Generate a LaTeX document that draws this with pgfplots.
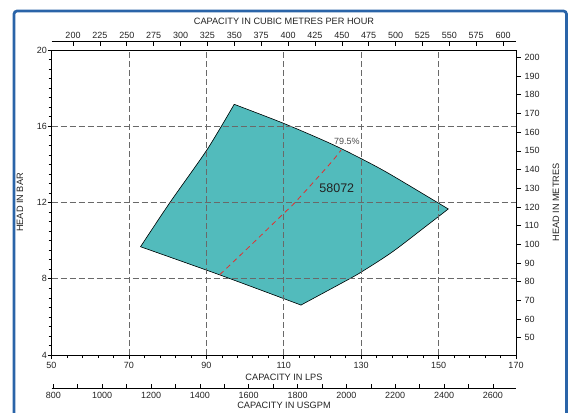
\documentclass[border=0pt]{standalone}
\usepackage{pgfplots}
\pgfplotsset{compat=1.18}
\usepackage{fontspec}
\setmainfont{Liberation Sans}
\definecolor{frameblue}{RGB}{42,100,168}
\definecolor{fillteal}{RGB}{82,187,188}
\definecolor{effred}{RGB}{228,45,45}
\definecolor{txt}{RGB}{35,35,35}
\definecolor{gridgray}{RGB}{105,105,105}
\pgfplotsset{
  common/.style={
    scale only axis, width=464.5pt,
    anchor=south west,
    ticklabel style={font=\fontsize{9}{10}\selectfont, text=txt},
    /pgf/number format/assume math mode=true,
    /pgf/number format/1000 sep={},
    axis line style={black, line width=0.7pt},
    tick style={black, line width=0.6pt},
  },
  edge/.style={black, line width=0.6pt, smooth, line cap=round, line join=round},
  fan/.style={fill=fillteal, draw=none, smooth},
}
\begin{document}
\begin{tikzpicture}[x=1pt,y=1pt]
\useasboundingbox (0,0) rectangle (572,412);
\draw[frameblue, line width=2.7pt, rounded corners=3pt] (14,-10) rectangle (566.5,401);
% main axis (LPS / bar)
\begin{axis}[common,
  at={(51.5pt,57pt)}, height=305pt,
  xmin=50, xmax=170, ymin=4, ymax=20,
  xtick={50,70,...,170}, minor x tick num=4,
  ytick={4,8,...,20}, minor y tick num=7,
  xtick pos=bottom, ytick pos=left,
  tick align=outside,
  major tick length=4pt, minor tick length=3pt,
  yticklabel style={inner xsep=0.5pt},
  grid=major,
  major grid style={gridgray, line width=0.7pt, dash pattern=on 6pt off 3pt},
  axis on top,
]
% operating envelope: base fill
\addplot[fill=fillteal, draw=none] coordinates {
  (73.0,9.68) (80.6,12.0) (90.25,14.79) (97.2,17.15)
  (110.1,16.14) (122.0,15.1) (130.1,14.29) (137.4,13.49)
  (152.5,11.66) (146.9,10.78) (138.0,9.40) (130.1,8.36) (126.3,7.92)
  (114.45,6.62) (93.5,8.2)
} -- cycle;
% curved edges, filled towards the centre and outlined
\addplot[fan] coordinates {(73.0,9.68) (80.6,12.0) (90.25,14.79) (97.2,17.15)} -- (115,11.5) -- cycle;
\addplot[fan] coordinates {(97.2,17.15) (110.1,16.14) (122.0,15.1) (130.1,14.29) (137.4,13.49) (152.5,11.66)} -- (115,11.5) -- cycle;
\addplot[fan] coordinates {(152.5,11.66) (146.9,10.78) (138.0,9.40) (130.1,8.36) (126.3,7.92) (114.45,6.62)} -- (115,11.5) -- cycle;
\addplot[fan] coordinates {(114.45,6.62) (93.5,8.2) (73.0,9.68)} -- (115,11.5) -- cycle;
\addplot[edge] coordinates {(73.0,9.68) (80.6,12.0) (90.25,14.79) (97.2,17.15)};
\addplot[edge] coordinates {(97.2,17.15) (110.1,16.14) (122.0,15.1) (130.1,14.29) (137.4,13.49) (152.5,11.66)};
\addplot[edge] coordinates {(152.5,11.66) (146.9,10.78) (138.0,9.40) (130.1,8.36) (126.3,7.92) (114.45,6.62)};
\addplot[edge] coordinates {(114.45,6.62) (93.5,8.2) (73.0,9.68)};
% efficiency line
\addplot[effred, line width=0.8pt, dash pattern=on 5pt off 4pt, smooth] coordinates {
  (93.5,8.22) (101.7,9.8) (109.9,11.41) (112.9,12.0) (121.9,14.02) (124.8,14.75)
};
\node[font=\fontsize{12.5}{14}\selectfont, text=txt] at (axis cs:123.7,12.75) {58072};
\node[font=\fontsize{9}{10}\selectfont, text=black!70] at (axis cs:126.3,15.23) {79.5\%};
\end{axis}
% right axis (metres)
\begin{axis}[common,
  at={(51.5pt,57pt)}, height=305pt,
  xmin=50, xmax=170, ymin=40.788, ymax=203.94,
  hide x axis, axis y line*=right,
  ytick={50,60,...,200},
  tick align=outside, major tick length=5pt,
]
\end{axis}
% top axis (m3/h)
\begin{axis}[common,
  at={(51.5pt,370pt)}, height=1pt,
  xmin=180, xmax=612, ymin=0, ymax=1,
  hide y axis, axis x line*=top,
  xtick={200,225,...,600},
  tick align=inside, major tick length=5pt,
  xticklabel style={yshift=-1.5pt},
]
\end{axis}
% bottom axis (USGPM)
\begin{axis}[common,
  at={(51.5pt,23.3pt)}, height=1pt,
  xmin=792.5, xmax=2694.5, ymin=0, ymax=1,
  hide y axis, axis x line*=bottom,
  xtick={800,1000,...,2600},
  minor xtick={900,1100,...,2500},
  tick align=inside, major tick length=5pt, minor tick length=5pt,
]
\end{axis}
\node[font=\fontsize{9.2}{10}\selectfont, text=txt] at (284,391) {CAPACITY IN CUBIC METRES PER HOUR};
\node[font=\fontsize{9.2}{10}\selectfont, text=txt] at (284,35) {CAPACITY IN LPS};
\node[font=\fontsize{9.2}{10}\selectfont, text=txt] at (284,7) {CAPACITY IN USGPM};
\node[font=\fontsize{9.2}{10}\selectfont, text=txt, rotate=90] at (20,209.5) {HEAD IN BAR};
\node[font=\fontsize{9.2}{10}\selectfont, text=txt, rotate=90] at (556,209.5) {HEAD IN METRES};
\end{tikzpicture}
\end{document}
